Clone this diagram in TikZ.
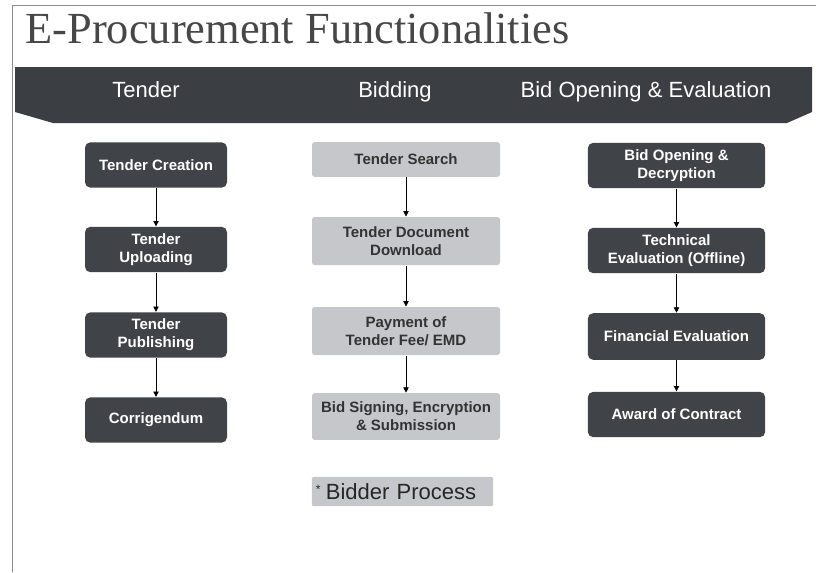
\documentclass[tikz,border=0pt]{standalone}
\usepackage{fontspec}
\setmainfont{Liberation Sans}
\newfontfamily\titlefont{Liberation Serif}
\usetikzlibrary{arrows.meta}

\definecolor{bandgray}{HTML}{3B3E43}
\definecolor{darkbox}{HTML}{404348}
\definecolor{lightbox}{HTML}{C6C7CB}
\definecolor{titlegray}{HTML}{474747}

\tikzset{every picture/.style={line width=0.75pt}}
\tikzset{
  stagedark/.style={fill=darkbox, rounded corners=4pt, text=white, align=center,
    font=\fontsize{11.25}{13.5}\selectfont\bfseries, inner sep=1pt},
  stagelight/.style={fill=lightbox, rounded corners=2pt, text=black!80, align=center,
    font=\fontsize{11.25}{13.5}\selectfont\bfseries, inner sep=1pt},
  bandlabel/.style={text=white, anchor=base, inner sep=0pt, font=\fontsize{16.5}{19}\selectfont},
  flow/.style={-{Triangle[length=4pt,width=4pt]}, line width=0.6pt}
}

\begin{document}
\begin{tikzpicture}[x=0.75pt,y=0.75pt,yscale=-1,xscale=1]
	\useasboundingbox (0,0) rectangle (816,572);
	
	%Frame
	\draw [color=black!45] (12,572) -- (12,5) -- (816,5) ;
	
	% Title
	\node [anchor=base west, text=titlegray, inner sep=0pt, font=\titlefont\fontsize{33.3}{38}\selectfont] (title) at (25,43) {E-Procurement Functionalities};
	
	%Shape: Band
	\fill [bandgray] (15,67) -- (812,67) -- (812,112) -- (787,123) -- (53,123) -- (15,112) -- cycle ;
	\node [bandlabel] (hdtender) at (146,97) {Tender};
	\node [bandlabel] (hdbidding) at (395,97) {Bidding};
	\node [bandlabel] (hdopening) at (646,97) {Bid Opening \& Evaluation};
	
	% Tender column
	\node [stagedark, minimum width=106.5pt, minimum height=34pt] (creation) at (156,165) {Tender Creation};
	\node [stagedark, minimum width=106.5pt, minimum height=34pt] (uploading) at (156,249.5) {Tender\\Uploading};
	\node [stagedark, minimum width=106.5pt, minimum height=34pt] (publishing) at (156,335) {Tender\\Publishing};
	\node [stagedark, minimum width=106.5pt, minimum height=34pt] (corrigendum) at (156,420) {Corrigendum};
	
	% Bidding column
	\node [stagelight, minimum width=141pt, minimum height=26pt] (search) at (406,159.5) {Tender Search};
	\node [stagelight, minimum width=141pt, minimum height=36pt] (download) at (406,241) {Tender Document\\Download};
	\node [stagelight, minimum width=141pt, minimum height=36pt] (payment) at (406,331) {Payment of\\Tender Fee/ EMD};
	\node [stagelight, minimum width=141pt, minimum height=35pt] (signing) at (406,416.5) {Bid Signing, Encryption\\\& Submission};
	\node [fill=lightbox, rounded corners=1pt, text=black!85, minimum width=136pt, minimum height=22pt, text width=130pt, align=left, inner sep=2pt, font=\fontsize{16.5}{19}\selectfont] (bidder) at (402.5,491.5) {\raisebox{4.5pt}{\fontsize{9}{9}\selectfont *}\hspace{4pt}Bidder Process};
	
	% Evaluation column
	\node [stagedark, minimum width=133pt, minimum height=34pt] (decryption) at (676.5,165.5) {Bid Opening \&\\Decryption};
	\node [stagedark, minimum width=133pt, minimum height=34pt] (technical) at (676.5,250.5) {Technical\\Evaluation (Offline)};
	\node [stagedark, minimum width=133pt, minimum height=35pt] (financial) at (676.5,336.5) {Financial Evaluation};
	\node [stagedark, minimum width=133pt, minimum height=34pt] (award) at (676.5,414.5) {Award of Contract};
	
	% Arrows
	\draw [flow] (creation) -- (uploading) ;
	\draw [flow] (uploading) -- (publishing) ;
	\draw [flow] (publishing) -- (corrigendum) ;
	\draw [flow] (search) -- (download) ;
	\draw [flow] (download) -- (payment) ;
	\draw [flow] (payment) -- (signing) ;
	\draw [flow] (decryption) -- (technical) ;
	\draw [flow] (technical) -- (financial) ;
	\draw [flow] (financial) -- (award) ;
	
\end{tikzpicture}
\end{document}
